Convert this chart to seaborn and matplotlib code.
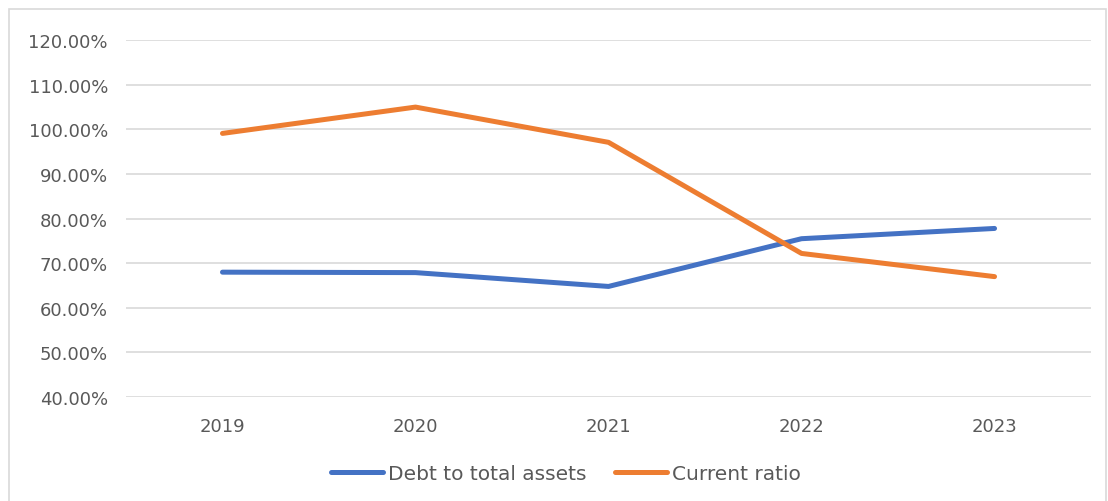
import numpy as np
import pandas as pd
import matplotlib.pyplot as plt
import seaborn as sns
from matplotlib.ticker import PercentFormatter

years = ["2019", "2020", "2021", "2022", "2023"]
debt_to_assets = [68.0, 67.9, 64.8, 75.5, 77.8]
current_ratio = [99.1, 105.0, 97.1, 72.2, 67.0]

df = pd.DataFrame({
    "year": years * 2,
    "value": debt_to_assets + current_ratio,
    "series": ["Debt to total assets"] * 5 + ["Current ratio"] * 5,
})

sns.set_theme(style="white")
plt.rcParams["font.family"] = ["DejaVu Sans"]
txt = "#595959"

fig = plt.figure(figsize=(11.08, 5.02), dpi=100)
ax = fig.add_axes([0.1137, 0.207, 0.871, 0.711])
sns.lineplot(data=df, x="year", y="value", hue="series", sort=False,
             palette=["#4472C4", "#ED7D31"], linewidth=3.6, ax=ax,
             solid_capstyle="round", solid_joinstyle="round")

ax.set_xlim(-0.5, 4.5)
ax.set_ylim(40, 120)
ax.set_yticks(np.arange(40, 121, 10))
ax.yaxis.set_major_formatter(PercentFormatter(decimals=2))
ax.grid(axis="y", color="#D9D9D9", linewidth=1.2)
ax.set_axisbelow(True)
for s in ax.spines.values():
    s.set_visible(False)
ax.tick_params(axis="both", length=0, labelsize=13, colors=txt)
ax.tick_params(axis="y", pad=13)
ax.tick_params(axis="x", pad=14)
ax.set_xlabel("")
ax.set_ylabel("")

handles, labels = ax.get_legend_handles_labels()
ax.legend(handles, labels, loc="center", bbox_to_anchor=(0.456, -0.215), ncol=2,
          frameon=False, fontsize=14.5, labelcolor=txt, handlelength=2.55,
          handletextpad=0.25, columnspacing=1.45)

fig.patches.append(plt.Rectangle((0.008, -0.01), 0.99, 0.99, transform=fig.transFigure,
                                 fill=False, edgecolor="#D9D9D9", linewidth=1.2))

plt.savefig("out.png", dpi=100)
